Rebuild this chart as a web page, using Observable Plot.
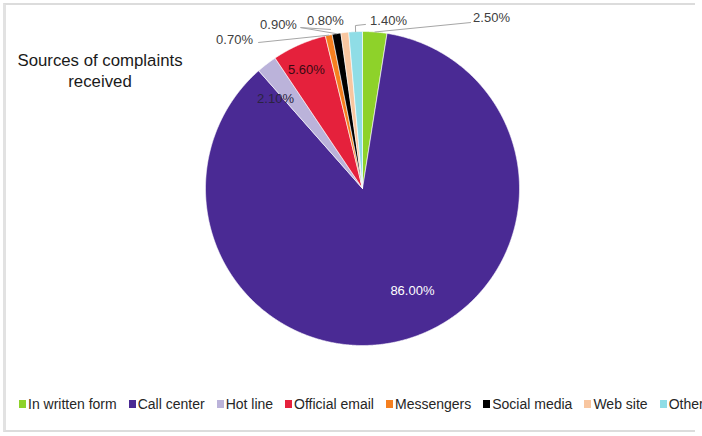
<!DOCTYPE html>
<html>
<head>
<meta charset="utf-8">
<script src="https://cdn.jsdelivr.net/npm/d3@7"></script>
<script src="https://cdn.jsdelivr.net/npm/@observablehq/plot@0.6"></script>
<style>
  html, body { margin: 0; padding: 0; background: #fff; }
  body { width: 702px; height: 436px; overflow: hidden; font-family: "Liberation Sans", Arial, sans-serif; }
  #wrap { position: relative; width: 702px; height: 436px; overflow: hidden; }
  #frame { position: absolute; left: 3px; top: 3px; width: 692px; height: 429px;
           border-top: 2px solid #dcdcdc; border-left: 3px solid #e2e2e2; border-bottom: 2px solid #dcdcdc; box-sizing: border-box; }
  #title { position: absolute; left: 4px; top: 50px; width: 192px; text-align: center;
           font-size: 16.8px; line-height: 21px; color: #1a1a1a; }
  #chart { position: absolute; left: 0; top: 0; }
  #legend { position: absolute; left: 19px; top: 396px; display: flex; white-space: nowrap;
            font-size: 14px; color: #262626; }
  #legend .item { display: flex; align-items: center; margin-right: 12px; }
  #legend .sw { width: 7px; height: 8px; margin-right: 2px; }
</style>
</head>
<body>
<div id="wrap">
  <div id="frame"></div>
  <div id="chart"></div>
  <div id="title">Sources of complaints<br>received</div>
  <div id="legend"></div>
</div>
<script>
// Complaint sources, in the order they run clockwise from 12 o'clock
const categories = ["In written form", "Call center", "Hot line", "Official email", "Messengers", "Social media", "Web site", "Other"];
const shares = [2.5, 86.0, 2.1, 5.6, 0.7, 0.9, 0.8, 1.4];
const colors = ["#8ed22a", "#4a2a94", "#bbb3da", "#e5213c", "#f57f1f", "#000000", "#f8c6a0", "#8fdde6"];

// Where each percentage label sits, in the unit-circle space of the pie
const labelLayout = {
  "In written form": {at: [0.822, 1.089], leader: [[0.688, 1.057]], fill: "#404040"},
  "Call center":     {at: [0.318, -0.650], leader: null, fill: "#ffffff"},
  "Hot line":        {at: [-0.554, 0.573], leader: null, fill: "#2a2440"},
  "Official email":  {at: [-0.357, 0.758], leader: null, fill: "#3a0a12"},
  "Messengers":      {at: [-0.815, 0.949], leader: [[-0.662, 0.930]], fill: "#404040"},
  "Social media":    {at: [-0.535, 1.045], leader: [[-0.395, 1.025], [-0.204, 1.013]], fill: "#404040"},
  "Web site":        {at: [-0.236, 1.070], leader: null, fill: "#404040"},
  "Other":           {at: [0.166, 1.070], leader: [[-0.045, 1.038], [0.019, 1.045]], fill: "#404040"}
};

const rows = categories.map((c, i) => ({key: c, value: shares[i]}));
const arcs = d3.pie().sort(null).value(d => d.value)(rows);

// Angle measured clockwise from the top; y grows upward in data space
const pt = (a, r) => [r * Math.sin(a), r * Math.cos(a)];

// Outline of each slice: centre, points along its arc, back to centre
const slicePts = [];
for (const a of arcs) {
  const n = Math.max(2, Math.ceil((a.endAngle - a.startAngle) / 0.005));
  slicePts.push({key: a.data.key, x: 0, y: 0});
  for (let k = 0; k <= n; k++) {
    const [x, y] = pt(a.startAngle + (a.endAngle - a.startAngle) * k / n, 1);
    slicePts.push({key: a.data.key, x, y});
  }
  slicePts.push({key: a.data.key, x: 0, y: 0});
}

const labels = arcs.map(a => {
  const L = labelLayout[a.data.key];
  return {key: a.data.key, x: L.at[0], y: L.at[1], fill: L.fill, text: a.data.value.toFixed(2) + "%"};
});

const leaders = [];
for (const a of arcs) {
  const L = labelLayout[a.data.key];
  if (!L.leader) continue;
  const mid = (a.startAngle + a.endAngle) / 2;
  const [ex, ey] = pt(mid, 1.0);
  leaders.push({key: a.data.key, x: ex, y: ey});
  for (const p of L.leader) leaders.push({key: a.data.key, x: p[0], y: p[1]});
}

const chart = Plot.plot({
  width: 702,
  height: 436,
  marginLeft: 205,
  marginRight: 183,
  marginTop: 31,
  marginBottom: 91,
  x: {domain: [-1, 1], axis: null},
  y: {domain: [-1, 1], axis: null},
  color: {type: "ordinal", domain: categories, range: colors},
  style: {background: "transparent", fontFamily: "Liberation Sans, Arial, sans-serif"},
  marks: [
    Plot.line(slicePts, {x: "x", y: "y", z: "key", fill: "key", stroke: "#ffffff", strokeWidth: 0.6, curve: "linear"}),
    Plot.line(leaders, {x: "x", y: "y", z: "key", stroke: "#a6a6a6", strokeWidth: 1}),
    Plot.text(labels, {x: "x", y: "y", text: "text", fill: d => d.fill, fontSize: 13, textAnchor: "middle"})
  ]
});
document.getElementById("chart").appendChild(chart);

// Legend row
const legend = d3.select("#legend");
categories.forEach((c, i) => {
  const item = legend.append("div").attr("class", "item");
  item.append("div").attr("class", "sw").style("background", colors[i]);
  item.append("span").text(c);
});
</script>
</body>
</html>
